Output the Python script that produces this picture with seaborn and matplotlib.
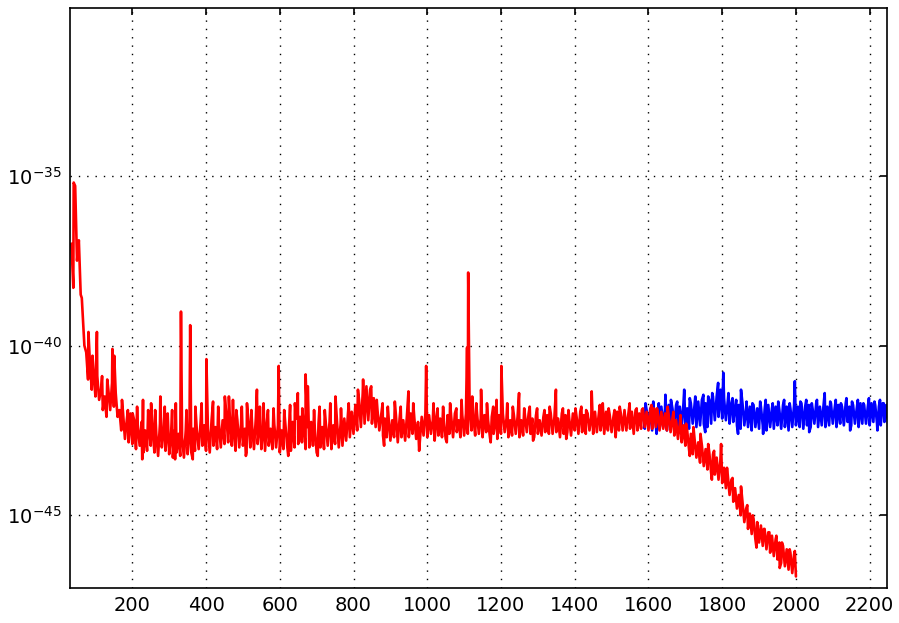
import numpy as np
import pandas as pd
import matplotlib
matplotlib.use("Agg")
import matplotlib.pyplot as plt
import seaborn as sns

# ---------------- data (log10 of the plotted quantity) ----------------
# red series: upper / lower edge of the noise band, x = 35, 45, ..., 1995
red_x_start, red_x_step = 35, 10
red_upper = [
    -37.0, -35.3, -36.9, -39.0, -40.2, -40.5, -40.8, -40.9, -41.3, -41.5,
    -41.3, -41.1, -41.4, -41.9, -42.0, -42.2, -42.0, -42.2, -42.4, -42.25,
    -42.5, -42.35, -42.45, -42.6, -42.3, -42.55, -42.4, -42.65, -42.5, -42.6,
    -42.7, -42.5, -42.6, -42.45, -42.5, -42.3, -42.35, -42.45, -42.2, -42.4,
    -42.3, -42.2, -42.05, -42.2, -42.35, -42.2, -42.3, -42.45, -42.25, -42.35,
    -42.15, -42.3, -42.4, -42.25, -42.45, -42.3, -42.35, -42.5, -42.3, -42.4,
    -42.25, -42.15, -42.1, -42.35, -42.4, -42.25, -42.45, -42.3, -42.4, -42.3,
    -42.25, -42.35, -42.2, -42.3, -42.15, -42.0, -41.95, -41.75, -41.6, -41.4,
    -41.2, -41.3, -41.55, -41.9, -42.05, -42.15, -42.1, -42.2, -42.05, -42.15,
    -42.2, -42.05, -42.0, -42.15, -42.25, -42.1, -42.0, -42.05, -42.2, -42.1,
    -42.15, -42.2, -42.05, -42.1, -42.0, -42.2, -42.05, -42.0, -41.9, -42.1,
    -42.0, -42.15, -42.05, -42.2, -42.1, -42.25, -42.05, -42.0, -42.15, -42.2,
    -42.05, -42.1, -42.2, -42.05, -42.0, -42.15, -42.05, -42.2, -42.1, -42.05,
    -42.0, -42.1, -42.15, -42.0, -42.05, -42.15, -42.0, -42.1, -41.95, -42.05,
    -42.0, -42.1, -41.95, -42.05, -42.1, -41.95, -42.05, -42.1, -41.95, -42.0,
    -41.9, -42.05, -41.95, -41.9, -42.0, -41.85, -41.95, -41.9, -41.85, -41.95,
    -41.95, -42.0, -42.05, -42.15, -42.2, -42.3, -42.35, -42.5, -42.6, -42.75,
    -42.85, -42.95, -43.05, -43.15, -43.2, -43.3, -43.4, -43.6, -43.8, -43.95,
    -44.2, -44.4, -44.6, -44.8, -44.95, -45.1, -45.2, -45.3, -45.4, -45.5,
    -45.6, -45.7, -45.8, -45.9, -46.0, -46.1, -46.15,
]
red_lower = [
    -38.3, -37.5, -38.5, -40.0, -41.0, -41.3, -41.5, -41.6, -41.9, -42.1,
    -41.9, -41.8, -42.1, -42.5, -42.75, -42.85, -42.9, -43.05, -42.95, -43.15,
    -43.1, -42.95, -43.15, -43.25, -43.0, -43.1, -43.2, -43.3, -43.15, -43.25,
    -43.3, -43.2, -43.15, -43.1, -43.05, -42.95, -43.1, -43.15, -42.95, -43.05,
    -43.0, -42.9, -42.85, -42.95, -43.1, -43.0, -42.95, -43.15, -43.0, -43.05,
    -42.9, -43.05, -43.1, -42.95, -43.05, -43.0, -43.15, -43.05, -42.95, -43.1,
    -43.0, -42.9, -42.85, -43.05, -43.0, -42.95, -43.15, -43.0, -43.05, -42.95,
    -43.05, -42.9, -43.0, -42.95, -42.8, -42.7, -42.6, -42.5, -42.4, -42.3,
    -42.2, -42.3, -42.4, -42.5, -42.65, -42.7, -42.8, -42.7, -42.85, -42.7,
    -42.8, -42.7, -42.6, -42.75, -42.8, -42.65, -42.7, -42.6, -42.8, -42.65,
    -42.7, -42.75, -42.6, -42.7, -42.55, -42.7, -42.65, -42.6, -42.5, -42.65,
    -42.6, -42.7, -42.55, -42.7, -42.6, -42.75, -42.6, -42.55, -42.7, -42.65,
    -42.6, -42.7, -42.65, -42.55, -42.6, -42.7, -42.6, -42.65, -42.55, -42.6,
    -42.6, -42.55, -42.7, -42.6, -42.55, -42.65, -42.5, -42.6, -42.55, -42.6,
    -42.5, -42.6, -42.55, -42.5, -42.6, -42.5, -42.55, -42.6, -42.5, -42.5,
    -42.5, -42.45, -42.6, -42.5, -42.45, -42.4, -42.5, -42.45, -42.4, -42.5,
    -42.45, -42.5, -42.55, -42.65, -42.75, -42.85, -42.95, -43.05, -43.2, -43.3,
    -43.45, -43.55, -43.65, -43.75, -43.8, -43.95, -44.05, -44.2, -44.4, -44.6,
    -44.8, -45.0, -45.2, -45.4, -45.55, -45.7, -45.8, -45.9, -46.0, -46.1,
    -46.2, -46.3, -46.4, -46.5, -46.6, -46.7, -46.8,
]
# isolated peaks of the red series (large ones)
red_spike_x = [41, 81, 104, 146, 151, 201, 251, 276, 332, 357, 401, 419, 451,
               473, 538, 546, 597, 649, 670, 676, 751, 949, 978, 997, 1108,
               1111, 1146, 1201, 1249, 1349, 1446, 1476, 1549, 1702, 1797,
               1851, 1997]
red_spike_e = [-35.2, -39.6, -39.6, -40.1, -40.3, -42.0, -41.7, -41.5, -39.0,
               -39.4, -40.4, -41.65, -41.5, -41.6, -41.3, -41.8, -40.6, -41.4,
               -40.85, -41.2, -41.5, -41.35, -43.1, -40.6, -40.06, -37.85,
               -41.3, -40.6, -41.4, -41.3, -41.35, -41.7, -41.7, -42.3, -42.9,
               -44.15, -46.05]
# small up / down excursions of the red band
red_small_x = [63, 92, 118, 132, 172, 188, 213, 229, 243, 262, 288, 296, 308,
               318, 347, 371, 388, 433, 462, 482, 497, 511, 523, 556, 568, 583,
               612, 628, 641, 661, 693, 708, 722, 737, 766, 787, 812, 826, 848,
               863, 879, 893, 912, 928, 962, 1017, 1028, 1043, 1062, 1079,
               1093, 1122, 1133, 1162, 1179, 1188, 1217, 1232, 1263, 1278,
               1298, 1318, 1332, 1368, 1383, 1402, 1418, 1431, 1468, 1492,
               1508, 1522, 1568, 1582, 1608, 1623, 1652, 1668, 1687, 1722,
               1741, 1762, 1778, 1813, 1828, 1868, 1883, 1913, 1928, 1947,
               1962, 1983,
               227, 316, 364, 508, 623, 703, 883, 1053, 1172, 1287, 1377,
               1511, 1712, 1772, 1893, 1956]
red_small_e = [-38.6, -40.3, -40.9, -41.0, -41.6, -41.9, -41.8, -41.6, -41.9,
               -41.9, -41.8, -42.0, -41.9, -41.7, -41.9, -41.8, -41.7, -41.8,
               -41.5, -41.9, -41.8, -41.7, -41.9, -41.7, -41.9, -41.85, -41.9,
               -41.75, -41.7, -41.85, -41.9, -41.8, -41.9, -41.7, -41.85,
               -41.7, -41.3, -41.0, -41.2, -41.6, -41.7, -41.8, -41.65, -41.8,
               -41.7, -41.7, -41.85, -41.8, -41.7, -41.85, -41.6, -41.5,
               -41.7, -41.7, -41.8, -41.6, -41.7, -41.8, -41.85, -41.8,
               -41.85, -41.9, -41.8, -41.85, -41.9, -41.85, -41.8, -41.9,
               -41.75, -41.85, -41.9, -41.8, -41.85, -41.9, -41.75, -41.85,
               -41.8, -41.95, -42.05, -42.4, -42.6, -42.9, -43.1, -43.6,
               -43.9, -44.7, -45.0, -45.4, -45.5, -45.6, -45.8, -46.0,
               -43.35, -43.35, -43.35, -43.25, -43.25, -43.25, -42.95, -42.85,
               -42.85, -42.8, -42.75, -42.7, -43.25, -43.95, -45.95, -46.55]

# blue series: x = 1585, 1595, ..., 2245
blue_x_start, blue_x_step = 1585, 10
blue_upper = [
    -41.95, -41.9, -41.85, -41.9, -41.95, -41.8, -41.85, -41.75, -41.85, -41.75,
    -41.8, -41.7, -41.85, -41.7, -41.75, -41.65, -41.6, -41.7, -41.6, -41.5,
    -41.5, -41.45, -41.55, -41.65, -41.7, -41.8, -41.75, -41.7, -41.85, -41.8,
    -41.75, -41.85, -41.8, -41.9, -41.75, -41.85, -41.8, -41.9, -41.75, -41.8,
    -41.85, -41.75, -41.8, -41.7, -41.8, -41.75, -41.85, -41.7, -41.8, -41.75,
    -41.8, -41.7, -41.85, -41.75, -41.8, -41.7, -41.8, -41.75, -41.85, -41.7,
    -41.75, -41.8, -41.7, -41.75, -41.8, -41.7, -41.75,
]
blue_lower = [
    -42.45, -42.4, -42.5, -42.35, -42.45, -42.4, -42.5, -42.4, -42.35, -42.45,
    -42.4, -42.35, -42.45, -42.3, -42.4, -42.35, -42.3, -42.4, -42.3, -42.2,
    -42.1, -42.15, -42.2, -42.3, -42.25, -42.35, -42.45, -42.35, -42.4, -42.5,
    -42.4, -42.45, -42.35, -42.5, -42.4, -42.45, -42.35, -42.45, -42.4, -42.5,
    -42.4, -42.35, -42.4, -42.45, -42.35, -42.4, -42.3, -42.4, -42.35, -42.4,
    -42.35, -42.3, -42.4, -42.3, -42.35, -42.25, -42.35, -42.3, -42.4, -42.3,
    -42.3, -42.35, -42.25, -42.3, -42.35, -42.25, -42.3,
]
blue_spike_x = [1646, 1697, 1749, 1789, 1803, 1851, 1997, 2078,
                1592, 1613, 1628, 1661, 1678, 1712, 1727, 1762, 1773, 1796,
                1817, 1828, 1838, 1866, 1882, 1903, 1918, 1937, 1952, 1968,
                1983, 2012, 2028, 2043, 2057, 2093, 2108, 2122, 2137, 2152,
                2168, 2183, 2198, 2213, 2228, 2238,
                1622, 1754, 1843, 1911, 2036, 2147, 2221]
blue_spike_e = [-41.45, -41.3, -41.45, -41.1, -40.8, -41.3, -41.05, -41.4,
                -41.7, -41.65, -41.7, -41.6, -41.65, -41.55, -41.5, -41.5,
                -41.4, -41.3, -41.4, -41.55, -41.6, -41.65, -41.7, -41.65,
                -41.6, -41.7, -41.65, -41.6, -41.7, -41.65, -41.6, -41.7,
                -41.6, -41.65, -41.6, -41.7, -41.55, -41.65, -41.6, -41.7,
                -41.55, -41.65, -41.6, -41.7,
                -42.6, -42.55, -42.6, -42.6, -42.55, -42.5, -42.5]

x_ticks = [200, 400, 600, 800, 1000, 1200, 1400, 1600, 1800, 2000, 2200]
y_ticks = [1e-45, 1e-40, 1e-35]


def band_frame(x0, step, upper, lower, extra):
    xs = []
    es = []
    for i, (u, l) in enumerate(zip(upper, lower)):
        xs += [x0 + step * i, x0 + step * i + step / 2]
        es += [u, l]
    for sx, se in extra:
        xs += list(sx)
        es += list(se)
    df = pd.DataFrame({"x": xs, "y": np.power(10.0, es)})
    return df.sort_values("x", kind="mergesort").reset_index(drop=True)


red_df = band_frame(red_x_start, red_x_step, red_upper, red_lower,
                    [(red_spike_x, red_spike_e), (red_small_x, red_small_e)])
blue_df = band_frame(blue_x_start, blue_x_step, blue_upper, blue_lower,
                     [(blue_spike_x, blue_spike_e)])

# ---------------- figure ----------------
sns.set_style("white")
plt.rcParams["font.family"] = ["DejaVu Sans"]
plt.rcParams["path.simplify"] = False

fig = plt.figure(figsize=(8.99, 6.23), dpi=100)
ax = fig.add_axes([70 / 899, 35 / 623, 817 / 899, 580 / 623])

sns.lineplot(data=blue_df, x="x", y="y", ax=ax, color=(0, 0, 1),
             linewidth=1.9, sort=False, estimator=None)
sns.lineplot(data=red_df, x="x", y="y", ax=ax, color=(1, 0, 0),
             linewidth=1.9, sort=False, estimator=None)

ax.set_yscale("log")
ax.set_xlim(31, 2247)
ax.set_ylim(10 ** -47.14, 10 ** -30.06)
ax.set_xticks(x_ticks)
ax.set_xticklabels([str(t) for t in x_ticks])
ax.set_yticks(y_ticks)
ax.yaxis.set_minor_locator(matplotlib.ticker.NullLocator())
ax.set_xlabel("")
ax.set_ylabel("")

ax.grid(True, which="major", color="black", linestyle=(0, (1, 5)),
        linewidth=1.0)
ax.set_axisbelow(True)
for s in ax.spines.values():
    s.set_color("black")
    s.set_linewidth(1.2)
    s.set_visible(True)
ax.tick_params(which="major", direction="in", top=True, right=True,
               length=5, width=1.2, labelsize=14, colors="black", pad=6)
ax.tick_params(which="minor", length=0)

fig.savefig("out.png", dpi=100)
